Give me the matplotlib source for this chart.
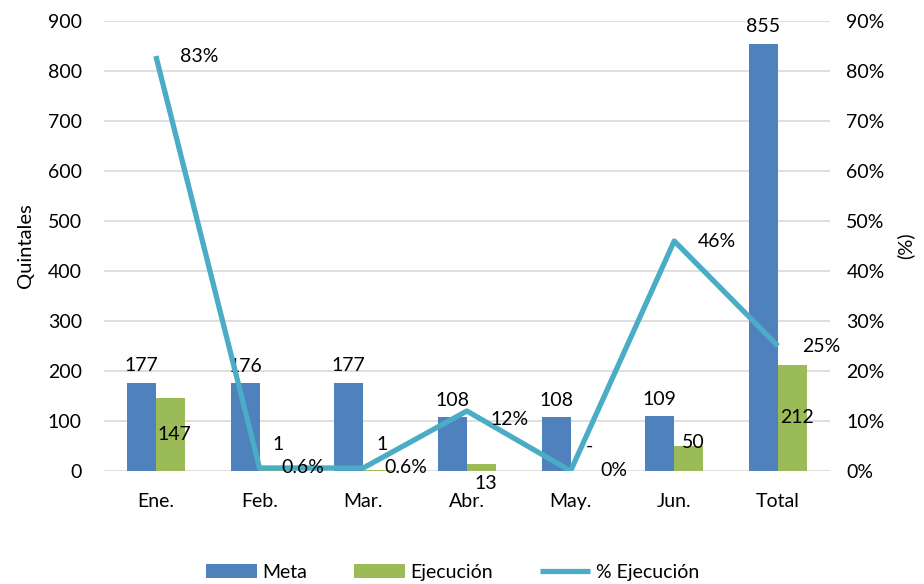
import matplotlib.pyplot as plt
import numpy as np

plt.rcParams['font.family'] = ['Lato', 'DejaVu Sans']

meses = ['Ene.', 'Feb.', 'Mar.', 'Abr.', 'May.', 'Jun.', 'Total']
meta = [177, 176, 177, 108, 108, 109, 855]
ejec = [147, 1, 1, 13, 0, 50, 212]
pct = [0.83, 0.006, 0.006, 0.12, 0.0, 0.46, 0.25]
ejec_lbl = ['147', '1', '1', '13', '-', '50', '212']
pct_lbl = ['83%', '0.6%', '0.6%', '12%', '0%', '46%', '25%']
# vertical position of the Ejecucion labels (quintales)
ejec_lbl_y = [72, 52, 52, -26, 50, 56, 106]

c_meta = '#4f81bd'
c_ejec = '#9bbb59'
c_pct = '#4bacc6'

fig = plt.figure(figsize=(9.24, 5.84), dpi=100)
ax = fig.add_axes([0.1126, 0.1935, 0.7854, 0.7705])
ax2 = ax.twinx()

x = np.arange(len(meses))
w = 0.28
b1 = ax.bar(x - w/2, meta, w, color=c_meta, label='Meta', zorder=2)
b2 = ax.bar(x + w/2, ejec, w, color=c_ejec, label='Ejecución', zorder=2)

ax.set_ylim(0, 900)
ax.set_yticks(range(0, 901, 100))
ax.set_xlim(-0.5, len(meses) - 0.5)
ax.set_xticks(x)
ax.set_xticklabels(meses)
ax.grid(axis='y', color='#d9d9d9', linewidth=1.2, zorder=0)
ax.set_axisbelow(True)
ax.tick_params(length=0, labelsize=14, pad=16)
ax.tick_params(axis='x', pad=16)
for s in ax.spines.values():
    s.set_visible(False)
for s in ax2.spines.values():
    s.set_visible(False)
ax.set_ylabel('Quintales', fontsize=14.5, labelpad=10)

for i, v in enumerate(meta):
    ax.annotate(str(v), (x[i] - w/2, v), xytext=(0, 6), textcoords='offset points',
                ha='center', va='bottom', fontsize=14)
for i, t in enumerate(ejec_lbl):
    ax.text(x[i] + w/2 + 0.04, ejec_lbl_y[i], t, ha='center', va='center', fontsize=14)

ax2.plot(x, pct, color=c_pct, linewidth=3.8, label='% Ejecución', zorder=3,
         solid_capstyle='butt')
ax2.set_ylim(0, 0.9)
ax2.set_yticks(np.arange(0, 0.91, 0.1))
ax2.set_yticklabels(['%d%%' % round(v * 100) for v in np.arange(0, 0.91, 0.1)])
ax2.tick_params(length=0, labelsize=14, pad=12)
ax2.set_ylabel('(%)', fontsize=14.5, labelpad=8)
for i, t in enumerate(pct_lbl):
    dy = -6 if i == 3 else 0
    ax2.annotate(t, (x[i], pct[i]), xytext=(31, dy), textcoords='offset points',
                 ha='center', va='center', fontsize=14)

h1, l1 = ax.get_legend_handles_labels()
h2, l2 = ax2.get_legend_handles_labels()
fig.legend(h1 + h2, l1 + l2, loc='lower center', bbox_to_anchor=(0.49, -0.025),
           ncol=3, frameon=False, fontsize=14, handlelength=2.6, columnspacing=2.4,
           handletextpad=0.3)

fig.savefig('out.png', dpi=100)
